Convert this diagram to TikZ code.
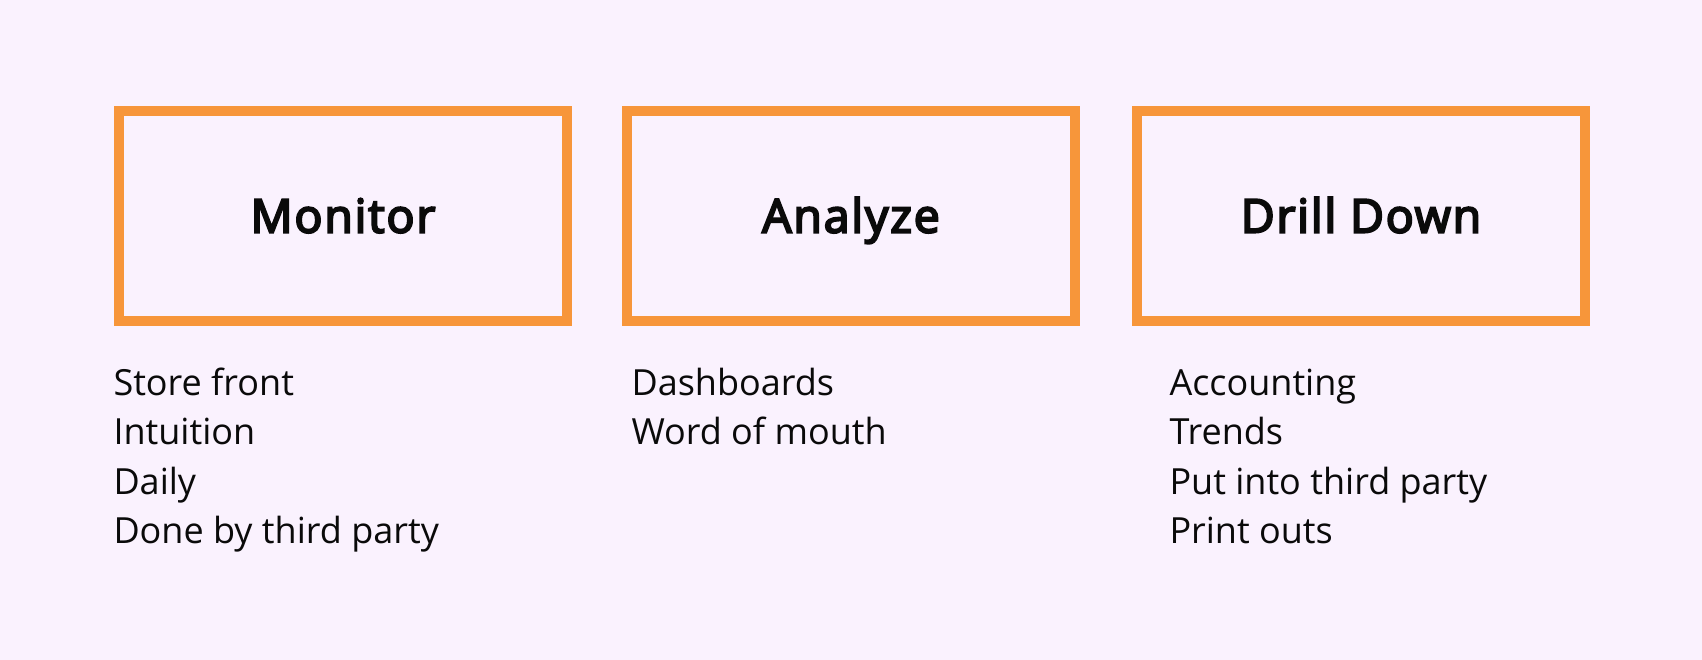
\documentclass[tikz,border=0pt]{standalone}
\usepackage{fontspec}
\setmainfont{Open Sans}
\newfontfamily\titlefont[FakeBold=4.5,LetterSpace=4]{Open Sans}
\definecolor{bgLavender}{HTML}{FAF2FE}
\definecolor{boxOrange}{HTML}{F7963A}
\definecolor{txtBlack}{HTML}{0A0A0A}
\tikzset{every picture/.style={line width=0.75pt}}
\tikzset{
  stagebox/.style={draw=boxOrange, line width=7.5pt, minimum width=336pt, minimum height=157.5pt, inner sep=0pt, text height=24.8pt, text depth=0pt, font=\fontsize{34.8}{40}\titlefont, text=txtBlack},
  listitem/.style={anchor=base west, inner sep=0.75pt, font=\fontsize{27}{32}\selectfont, text=txtBlack}
}
\begin{document}
\begin{tikzpicture}[x=0.75pt,y=0.75pt,yscale=-1,xscale=1]
    %Background
    \fill[bgLavender] (0,0) rectangle (1702,660);
    \useasboundingbox (0,0) rectangle (1702,660);
    %Shape: Rectangle [Monitor]
    \node[stagebox] (monitor) at (343,216) {Monitor};
    %Shape: Rectangle [Analyze]
    \node[stagebox] (analyze) at (851,216) {Analyze};
    %Shape: Rectangle [Drill Down]
    \node[stagebox] (drilldown) at (1361,216) {Drill Down};
    % Text Node
    \node[listitem] (storefront) at (112,395) {Store front};
    % Text Node
    \node[listitem] (intuition) at (112,444.6) {Intuition};
    % Text Node
    \node[listitem] (daily) at (112,494.2) {Daily};
    % Text Node
    \node[listitem] (thirdparty) at (112,543.8) {Done by third party};
    % Text Node
    \node[listitem] (dashboards) at (630,395) {Dashboards};
    % Text Node
    \node[listitem] (wordofmouth) at (630,444.6) {Word of mouth};
    % Text Node
    \node[listitem] (accounting) at (1168,395) {Accounting};
    % Text Node
    \node[listitem] (trends) at (1168,444.6) {Trends};
    % Text Node
    \node[listitem] (putinto) at (1168,494.2) {Put into third party};
    % Text Node
    \node[listitem] (printouts) at (1168,543.8) {Print outs};
\end{tikzpicture}
\end{document}
